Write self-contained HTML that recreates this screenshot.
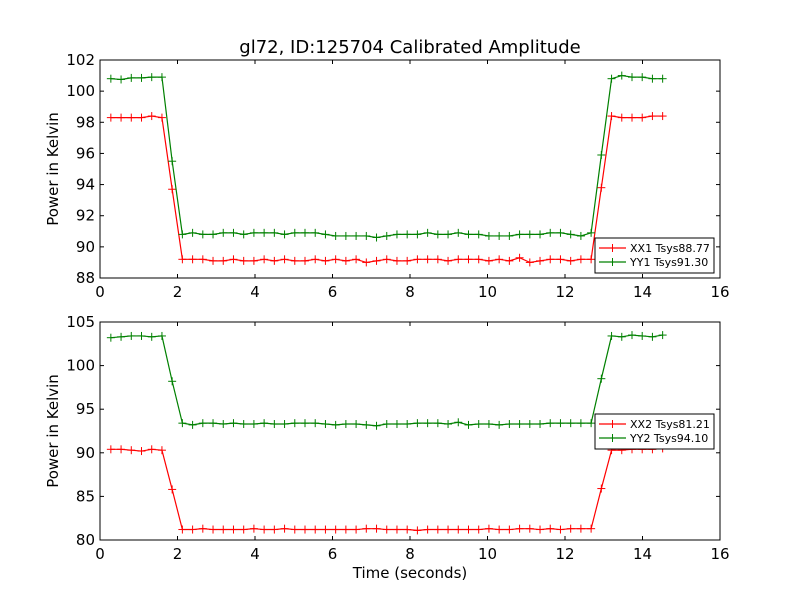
<!DOCTYPE html>
<html><head><meta charset="utf-8"><style>
body{margin:0;background:#fff}
svg{display:block;font-family:"DejaVu Sans","Liberation Sans",sans-serif}
</style></head><body>
<svg id="c" width="800" height="600"></svg>
<script>
const xTicks=[0,2,4,6,8,10,12,14,16];
const yTicksTop=[88,90,92,94,96,98,100,102];
const yTicksBot=[80,85,90,95,100,105];
const t0=0.28, dt=0.2637, nPts=55;
const xx1=[98.3,98.3,98.3,98.3,98.4,98.3,93.7,
89.2,89.2,89.2,89.1,89.1,89.2,89.1,89.1,89.2,89.1,
89.2,89.1,89.1,89.2,89.1,89.2,89.1,89.2,89.0,89.1,
89.2,89.1,89.1,89.2,89.2,89.2,89.1,89.2,89.2,89.2,
89.1,89.2,89.1,89.3,89.0,89.1,89.2,89.2,89.1,89.2,
89.2,93.8,98.4,98.3,98.3,98.3,98.4,98.4];
const yy1=[100.8,100.75,100.85,100.85,100.9,100.9,95.5,
90.8,90.9,90.8,90.8,90.9,90.9,90.8,90.9,90.9,90.9,
90.8,90.9,90.9,90.9,90.8,90.7,90.7,90.7,90.7,90.6,
90.7,90.8,90.8,90.8,90.9,90.8,90.8,90.9,90.8,90.8,
90.7,90.7,90.7,90.8,90.8,90.8,90.9,90.9,90.8,90.7,
90.9,95.9,100.8,101.0,100.9,100.9,100.8,100.8];
const xx2=[90.4,90.4,90.3,90.2,90.4,90.3,85.8,
81.2,81.2,81.3,81.2,81.2,81.2,81.2,81.3,81.2,81.2,
81.3,81.2,81.2,81.2,81.2,81.2,81.2,81.2,81.3,81.3,
81.2,81.2,81.2,81.1,81.2,81.2,81.2,81.2,81.2,81.2,
81.3,81.2,81.2,81.3,81.3,81.2,81.3,81.2,81.3,81.3,
81.3,85.9,90.3,90.3,90.4,90.4,90.4,90.5];
const yy2=[103.2,103.3,103.4,103.4,103.3,103.4,98.2,
93.4,93.2,93.4,93.4,93.3,93.4,93.3,93.3,93.4,93.3,
93.3,93.4,93.4,93.4,93.3,93.2,93.3,93.3,93.2,93.1,
93.3,93.3,93.3,93.4,93.4,93.4,93.3,93.5,93.2,93.3,
93.3,93.2,93.3,93.3,93.3,93.3,93.4,93.4,93.4,93.4,
93.4,98.5,103.4,103.3,103.5,103.4,103.3,103.5];
const NS="http://www.w3.org/2000/svg";
const svg=document.getElementById('c');
function mk(tag,attrs,parent){const e=document.createElementNS(NS,tag);for(const k in attrs)e.setAttribute(k,attrs[k]);(parent||svg).appendChild(e);return e;}
const L=100,R=720;
function sx(v){return L+(v-0)/(16-0)*(R-L);}
function panel(top,bot,ymin,ymax,yTicks,s1,s2,n1,n2,legTop,pname){
  const sy=v=>bot-(v-ymin)/(ymax-ymin)*(bot-top);
  const g=mk('g',{});
  
  
  mk('rect',{x:L,y:top,width:R-L,height:bot-top,fill:'#fff',stroke:'#000','stroke-width':1},g);
  xTicks.forEach(v=>{const x=sx(v);
    mk('line',{x1:x,x2:x,y1:bot,y2:bot-4,stroke:'#000'},g);
    mk('line',{x1:x,x2:x,y1:top,y2:top+4,stroke:'#000'},g);
    const t=mk('text',{x:x,y:bot+19,'text-anchor':'middle','font-size':15},g);t.textContent=v;
    
    });
  yTicks.forEach(v=>{const y=sy(v);
    mk('line',{x1:L,x2:L+4,y1:y,y2:y,stroke:'#000'},g);
    mk('line',{x1:R,x2:R-4,y1:y,y2:y,stroke:'#000'},g);
    const t=mk('text',{x:L-5,y:y+5,'text-anchor':'end','font-size':15},g);t.textContent=v;
    
    });
  const yl=mk('text',{x:0,y:0,'text-anchor':'middle','font-size':15,transform:`translate(58,${(top+bot)/2}) rotate(-90)`},g);
  yl.textContent='Power in Kelvin';
  
  
  [[s1,'#ff0000',n1],[s2,'#008000',n2]].forEach(([s,c,n])=>{
    const pts=s.map((v,i)=>[sx(t0+i*dt),sy(v)]);
    const p=mk('polyline',{points:pts.map(p=>p.join(',')).join(' '),fill:'none',stroke:c,'stroke-width':1.2},g);
    
    
    pts.forEach(([x,y])=>{mk('line',{x1:x-4,x2:x+4,y1:y,y2:y,stroke:c},g);mk('line',{x1:x,x2:x,y1:y-4,y2:y+4,stroke:c},g);});
  });
  const lg=mk('g',{},g);
  
  
  mk('rect',{x:595,y:legTop,width:119,height:35,fill:'#fff',stroke:'#000'},lg);
  [[n1,'#ff0000'],[n2,'#008000']].forEach(([n,c],k)=>{const y=legTop+10+k*14;
    mk('line',{x1:599,x2:626,y1:y,y2:y,stroke:c,'stroke-width':1.2},lg);
    mk('line',{x1:612.5,x2:612.5,y1:y-4,y2:y+4,stroke:c},lg);
    const t=mk('text',{x:630,y:y+4,'font-size':11},lg);t.textContent=n;
    
    });
}
panel(60,278,88,102,yTicksTop,xx1,yy1,'XX1 Tsys88.77','YY1 Tsys91.30',238,'top-panel');
panel(322,540,80,105,yTicksBot,xx2,yy2,'XX2 Tsys81.21','YY2 Tsys94.10',414,'bottom-panel');
const tt=mk('text',{x:410,y:53,'text-anchor':'middle','font-size':18});
tt.textContent='gl72, ID:125704 Calibrated Amplitude';


const xt=mk('text',{x:410,y:578,'text-anchor':'middle','font-size':15});
xt.textContent='Time (seconds)';


</script>
</body></html>
